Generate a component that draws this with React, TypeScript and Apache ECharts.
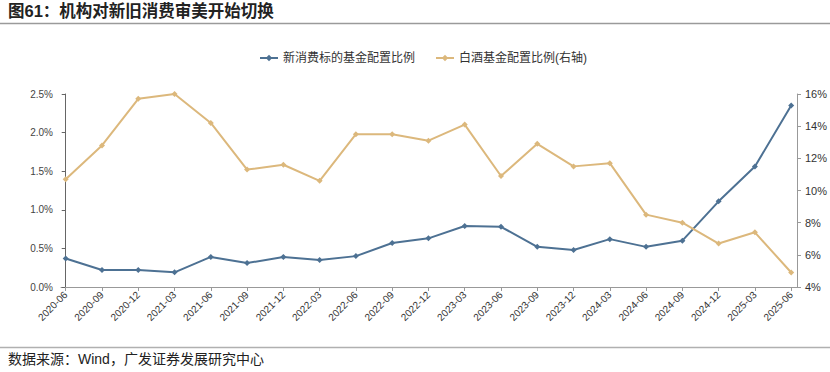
import React, { useEffect, useRef } from "react";
import * as echarts from "echarts";

const categories = [
  "2020-06", "2020-09", "2020-12", "2021-03", "2021-06", "2021-09", "2021-12",
  "2022-03", "2022-06", "2022-09", "2022-12", "2023-03", "2023-06", "2023-09",
  "2023-12", "2024-03", "2024-06", "2024-09", "2024-12", "2025-03", "2025-06",
];
// 新消费标的基金配置比例 (%), left axis
const newConsumption = [
  0.37, 0.22, 0.22, 0.19, 0.39, 0.31, 0.39, 0.35, 0.40, 0.57, 0.63,
  0.79, 0.78, 0.52, 0.48, 0.62, 0.52, 0.60, 1.11, 1.56, 2.35,
];
// 白酒基金配置比例 (%), right axis
const baijiu = [
  10.7, 12.8, 15.7, 16.0, 14.2, 11.3, 11.6, 10.6, 13.5, 13.5, 13.1,
  14.1, 10.9, 12.9, 11.5, 11.7, 8.5, 8.0, 6.7, 7.4, 4.9,
];
const leftTicks = [0, 0.5, 1.0, 1.5, 2.0, 2.5];
const rightTicks = [4, 6, 8, 10, 12, 14, 16];

const seriesNames = ["新消费标的基金配置比例", "白酒基金配置比例(右轴)"];
const title = "图61：机构对新旧消费审美开始切换";
const source = "数据来源：Wind，广发证券发展研究中心";

export default function App() {
  const ref = useRef<HTMLDivElement>(null);
  useEffect(() => {
    document.body.style.margin = "0";
    const chart = echarts.init(ref.current!, undefined, { renderer: "svg" });
    const idx = categories.map((_, i) => i);
    const font = "'Liberation Sans', 'Noto Sans CJK SC', sans-serif";
    chart.setOption({
      animation: false,
      textStyle: { fontFamily: font },
      graphic: [
        {
          type: "text", left: 8, top: 3,
          style: { text: title, font: `bold 16.5px ${font}`, fill: "#222" },
        },
        {
          type: "line", shape: { x1: 0, y1: 23.5, x2: 830, y2: 23.5 },
          style: { stroke: "#9a9a9a", lineWidth: 1.5 },
        },
        {
          type: "line", shape: { x1: 0, y1: 347.5, x2: 830, y2: 347.5 },
          style: { stroke: "#b0b0b0", lineWidth: 1.5 },
        },
        {
          type: "text", left: 8, top: 352,
          style: { text: source, font: `14px ${font}`, fill: "#222" },
        },
      ],
      legend: {
        top: 47,
        left: 254,
        itemGap: 20,
        itemWidth: 18,
        itemHeight: 8,
        textStyle: { fontSize: 12, color: "#333", fontFamily: font },
        data: seriesNames,
      },
      grid: { left: 61, right: 31, top: 94, bottom: 85, containLabel: false },
      xAxis: {
        type: "value",
        min: -0.13,
        max: 20.16,
        splitLine: { show: false },
        axisLine: { show: true, onZero: false, lineStyle: { color: "#999" } },
        axisTick: { show: true, customValues: idx, length: 4, lineStyle: { color: "#999" } },
        axisLabel: {
          customValues: idx,
          rotate: 45,
          fontSize: 10,
          color: "#333",
          margin: 6,
          formatter: (v: number) => categories[Math.round(v)] ?? "",
        },
      },
      yAxis: [
        {
          type: "value",
          min: 0,
          max: 2.5,
          interval: 0.5,
          splitLine: { show: false },
          axisLine: { show: true, lineStyle: { color: "#666" } },
          axisTick: { show: true, length: 4, lineStyle: { color: "#666" } },
          axisLabel: {
            fontSize: 10,
            color: "#444",
            formatter: (v: number) => leftTicks.includes(v) ? v.toFixed(1) + "%" : "",
          },
        },
        {
          type: "value",
          min: 4,
          max: 16,
          interval: 2,
          splitLine: { show: false },
          axisLine: { show: true, lineStyle: { color: "#999" } },
          axisTick: { show: true, length: 4, lineStyle: { color: "#999" } },
          axisLabel: {
            fontSize: 11,
            color: "#333",
            formatter: (v: number) => rightTicks.includes(v) ? v + "%" : "",
          },
        },
      ],
      series: [
        {
          name: seriesNames[0],
          type: "line",
          yAxisIndex: 0,
          data: newConsumption.map((v, i) => [i, v]),
          symbol: "diamond",
          symbolSize: 6,
          lineStyle: { width: 2, color: "#4d7193" },
          itemStyle: { color: "#4d7193" },
        },
        {
          name: seriesNames[1],
          type: "line",
          yAxisIndex: 1,
          data: baijiu.map((v, i) => [i, v]),
          symbol: "diamond",
          symbolSize: 6,
          lineStyle: { width: 2, color: "#dcb87c" },
          itemStyle: { color: "#dcb87c" },
        },
      ],
    });
    return () => chart.dispose();
  }, []);
  return <div ref={ref} style={{ width: 830, height: 372 }} />;
}
